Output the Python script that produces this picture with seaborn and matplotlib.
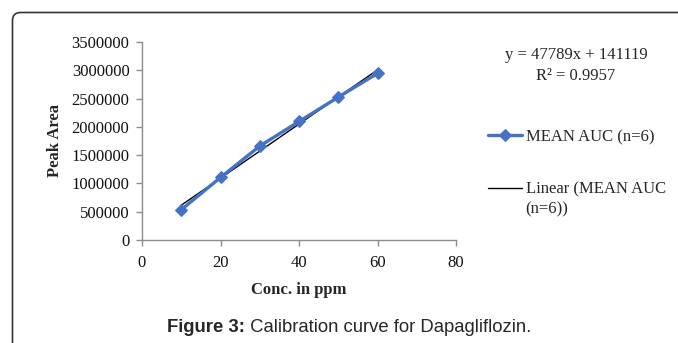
import numpy as np
import pandas as pd
import matplotlib
matplotlib.use("Agg")
import matplotlib.pyplot as plt
from matplotlib.patches import FancyBboxPatch
import seaborn as sns

# Data
conc = [10, 20, 30, 40, 50, 60]
mean_auc = [535000, 1105000, 1660000, 2095000, 2525000, 2945000]
x_ticks = [0, 20, 40, 60, 80]
y_ticks = [0, 500000, 1000000, 1500000, 2000000, 2500000, 3000000, 3500000]
series_label = "MEAN AUC (n=6)"
trend_label_1 = "Linear (MEAN AUC"
trend_label_2 = "(n=6))"
equation = "y = 47789x + 141119"
r2_text = "R\u00b2 = 0.9957"
caption_bold = "Figure 3:"
caption_rest = " Calibration curve for Dapagliflozin."

df = pd.DataFrame({"conc": conc, "auc": mean_auc})

sns.set_theme(style="white")
plt.rcParams["font.family"] = ["Liberation Serif", "DejaVu Serif"]

W, H = 678, 343
fig = plt.figure(figsize=(W / 100, H / 100), dpi=100)

# rounded frame (pixel coordinates), only top-left corner visible
frame = FancyBboxPatch((12.5, -60), 800, H - 12.5 + 60,
                       boxstyle="round,pad=0,rounding_size=8",
                       transform=None, facecolor="none",
                       edgecolor="#333333", linewidth=1.2)
fig.patches.append(frame)

ax = fig.add_axes([142 / W, 1 - 240 / H, (456 - 142) / W, (240 - 42) / H])

sns.regplot(data=df, x="conc", y="auc", ax=ax, scatter=False, ci=None,
            truncate=True, color="black", line_kws={"linewidth": 1.0},
            label=trend_label_1)
sns.lineplot(data=df, x="conc", y="auc", ax=ax, color="#4472C4",
             linewidth=2.4, marker="D", markersize=6.5, markeredgecolor="#4472C4",
             label=series_label)

ax.set_xlim(0, 80)
ax.set_ylim(0, 3500000)
ax.set_xticks(x_ticks)
ax.set_yticks(y_ticks)
ax.set_xticklabels([str(v) for v in x_ticks])
ax.set_yticklabels([str(v) for v in y_ticks])
ax.tick_params(axis="both", labelsize=12, length=4, width=1, color="#8c8c8c",
               direction="out", bottom=True, left=True, labelcolor="#111111")
ax.tick_params(axis="x", pad=7)
ax.tick_params(axis="y", pad=5)
sns.despine(ax=ax)
for s in ["left", "bottom"]:
    ax.spines[s].set_color("#8c8c8c")
    ax.spines[s].set_linewidth(1)

ax.set_xlabel("Conc. in ppm", fontsize=12, fontweight="bold", labelpad=8)
ax.set_ylabel("Peak Area", fontsize=12, fontweight="bold", labelpad=6)

# legend
handles, labels = ax.get_legend_handles_labels()
order = [labels.index(series_label), labels.index(trend_label_1)]
leg = ax.legend([handles[i] for i in order], [labels[i] for i in order],
                loc="upper left", bbox_to_anchor=(488 / W, 1 - 129 / H),
                bbox_transform=fig.transFigure, frameon=False, fontsize=12,
                handlelength=2.05, handletextpad=0.2, labelspacing=2.2,
                borderaxespad=0, borderpad=0)

# equation
fig.text(576 / W, 1 - 55 / H, equation, ha="center", va="center", fontsize=12)
fig.text(576 / W, 1 - 76 / H, r2_text, ha="center", va="center", fontsize=12)

fig.canvas.draw()
renderer = fig.canvas.get_renderer()
lt = leg.get_texts()[1]
lbb = lt.get_window_extent(renderer=renderer)
fig.text(lbb.x0 / W, (lbb.y0 + lbb.y1) / 2 / H - 20 / H, trend_label_2,
         ha="left", va="center", fontsize=12)

# caption
t1 = fig.text(167 / W, 1 - 328 / H, caption_bold, ha="left", va="center",
              fontsize=13.3, fontweight="bold", family=["Liberation Sans"])
fig.canvas.draw()
bb = t1.get_window_extent(renderer=fig.canvas.get_renderer())
fig.text(bb.x1 / W, 1 - 328 / H, caption_rest, ha="left", va="center",
         fontsize=13.3, family=["Liberation Sans"])

fig.savefig("out.png", dpi=100)
